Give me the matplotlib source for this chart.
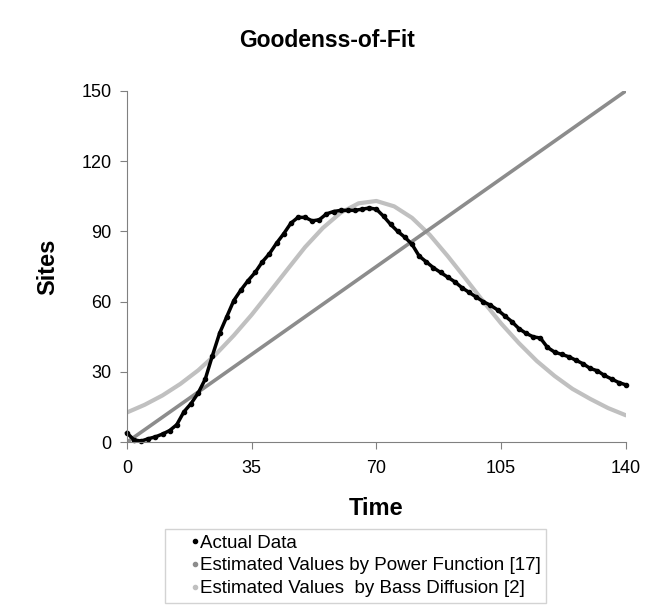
import numpy as np
import matplotlib.pyplot as plt
from matplotlib.lines import Line2D

plt.rcParams['font.family'] = ['Liberation Sans', 'DejaVu Sans']

# Datos
tiempo = list(range(0, 141, 2))
sitios_reales = [4, 1, 0.5, 1.5, 2.3, 3.5, 5, 7.5, 13, 16.5,
                 21, 27, 37, 46.5, 53.5, 60.5, 65, 69, 72.5, 77,
                 80.5, 85, 89, 93.5, 96, 96, 94.5, 95, 97.5, 98.5,
                 99, 99, 99, 99.5, 100, 99.5, 96.5, 93, 90, 87.5,
                 84.5, 79.5, 77, 74.5, 72.5, 70.5, 68.5, 66, 64, 62,
                 60, 58.5, 56.5, 54, 51.5, 48.5, 46.5, 45, 44.5, 40.5,
                 38.5, 37.5, 36.5, 35, 33.5, 31.5, 30.5, 28.5, 27, 25.5,
                 24.5]

tiempo_potencia = [0, 35, 70, 105, 140]
sitios_potencia = [0, 37.5, 75, 112.5, 150]

tiempo_bass = list(range(0, 141, 5))
sitios_bass = [12.7, 16.0, 20.0, 24.9, 30.7, 37.6, 45.6, 54.4, 64.0, 73.7,
               83.3, 91.5, 98.0, 102.0, 103.0, 100.7, 95.8, 88.5, 79.5, 69.9,
               60.1, 50.7, 42.3, 34.7, 28.3, 22.8, 18.5, 14.6, 11.5]

etiquetas = ['Actual Data',
             'Estimated Values by Power Function [17]',
             'Estimated Values  by Bass Diffusion [2]']
colores = ['black', '#8c8c8c', '#c0c0c0']

fig = plt.figure(figsize=(6.54, 6.10), dpi=100)
ax = fig.add_axes([0.194, 0.275, 0.763, 0.576])

ax.plot(tiempo_bass, sitios_bass, color=colores[2], lw=3, solid_capstyle='round')
ax.plot(tiempo_potencia, sitios_potencia, color=colores[1], lw=2.6, solid_capstyle='round')
ax.plot(tiempo, sitios_reales, color=colores[0], lw=2.5, marker='o', markersize=3,
        clip_on=False)

ax.set_xlim(0, 140)
ax.set_ylim(0, 150)
ax.set_xticks([0, 35, 70, 105, 140])
ax.set_yticks(np.arange(0, 151, 30))

for lado in ['top', 'right']:
    ax.spines[lado].set_visible(False)
for lado in ['left', 'bottom']:
    ax.spines[lado].set_color('#808080')
ax.tick_params(colors='#808080', labelcolor='black', labelsize=13, length=5)
ax.tick_params(axis='x', pad=8)
ax.tick_params(axis='y', pad=6)

ax.set_xlabel('Time', fontsize=17, fontweight='bold', labelpad=14)
ax.set_ylabel('Sites', fontsize=17, fontweight='bold', labelpad=16)
fig.suptitle('Goodenss-of-Fit', fontsize=16.5, fontweight='bold', y=0.952)

# Leyenda debajo del grafico
handles = [Line2D([], [], color=c, marker='o', markersize=3, linestyle='none') for c in colores]
leg = fig.legend(handles, etiquetas, loc='upper left', bbox_to_anchor=(165 / 654, 1 - 529 / 610),
                 fontsize=13.5, handlelength=2.6, handletextpad=-1.05, borderpad=0.3,
                 labelspacing=0.3, borderaxespad=0, fancybox=False, frameon=True)
leg.get_frame().set_edgecolor('#c8c8c8')
leg.get_frame().set_linewidth(1)

fig.savefig('out.png', dpi=100)
